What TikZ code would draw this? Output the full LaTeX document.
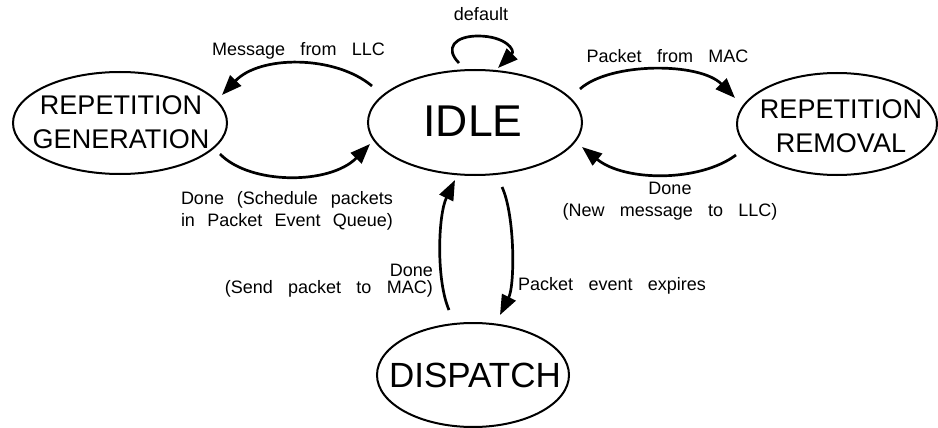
\documentclass[tikz,border=0pt]{standalone}
\usepackage{fontspec}
\setmainfont{Liberation Sans}
\usetikzlibrary{arrows.meta,shapes.geometric,calc}
\newcommand\mylblfont{\fontsize{18}{22}\selectfont\spaceskip=0.85em plus 1em minus 0.5em\relax}
\newcommand\mylblfontb{\fontsize{18}{17.5}\selectfont\spaceskip=0.85em plus 1em minus 0.5em\relax}
\begin{document}
\begin{tikzpicture}[x=1pt,y=-1pt,
  state/.style={draw,ellipse,line width=2pt,inner sep=0pt},
  stname/.style={font=\fontsize{27}{34}\selectfont,align=center,inner sep=0pt},
  lbl/.style={font=\mylblfont,inner sep=0pt},
  trans/.style={line width=2.7pt,-{Triangle[length=20pt,width=15pt]}}]
\useasboundingbox (0,0) rectangle (938,428);

% states
\node[state,minimum width=214pt,minimum height=102pt] (gen) at (120,123) {};
\node[stname] (gentxt) at (121,122.5) {REPETITION\\GENERATION};
\node[state,minimum width=214pt,minimum height=105pt] (idle) at (475,122.5) {};
\node[stname,font=\fontsize{44.5}{50}\selectfont] (idletxt) at (473,121) {IDLE};
\node[state,minimum width=200pt,minimum height=102pt] (rem) at (837,124) {};
\node[stname] (remtxt) at (841,126) {REPETITION\\REMOVAL};
\node[state,minimum width=192pt,minimum height=104pt] (disp) at (473,375) {};
\node[stname,font=\fontsize{35}{40}\selectfont] (disptxt) at (475,375) {DISPATCH};

% transitions
\draw[trans] ($(idle.center)+(-16,-59.5)$) .. controls (444,48) and (455,36) .. (478,36)
  .. controls (505,36) and (516,50) .. ($(idle.center)+(23,-54.5)$);
\draw[trans] ($(idle.center)+(-103,-36.5)$) .. controls (335,55) and (260,55) .. ($(gen.center)+(102,-28)$);
\draw[trans] ($(gen.center)+(100,31)$) .. controls (250,185) and (330,185) .. ($(idle.center)+(-105,21.5)$);
\draw[trans] ($(idle.center)+(105,-33.5)$) .. controls (610,62) and (700,62) .. ($(rem.center)+(-102,-26)$);
\draw[trans] ($(rem.center)+(-101,31)$) .. controls (700,182) and (625,182) .. ($(idle.center)+(107,24.5)$);
\draw[trans] ($(disp.center)+(-24,-65)$) .. controls (436,280) and (438,215) .. ($(idle.center)+(-20,57.5)$);
\draw[trans] ($(idle.center)+(27,64.5)$) .. controls (515,215) and (515,285) .. ($(disp.center)+(27,-60)$);

% labels
\node[lbl] (ldefault) at (481,14) {default};
\node[lbl,anchor=base] (lmsg) at (298.5,56) {Message from LLC};
\node[lbl,anchor=base] (lpkt) at (667.5,63) {Packet from MAC};
\node[lbl,align=left] (lsched) at (287,210.6)
  {\makebox[212pt][s]{Done (Schedule packets}\\\makebox[212pt][s]{in Packet Event Queue)}};
\node[lbl,align=center] (lnew) at (670,201) {Done\\(New message to LLC)};
\node[lbl,align=right,font=\mylblfontb,anchor=east] (lsend) at (433,280.8) {Done\\(Send packet to MAC)};
\node[lbl,anchor=base west] (lexp) at (518,290) {Packet event expires};
\end{tikzpicture}
\end{document}
